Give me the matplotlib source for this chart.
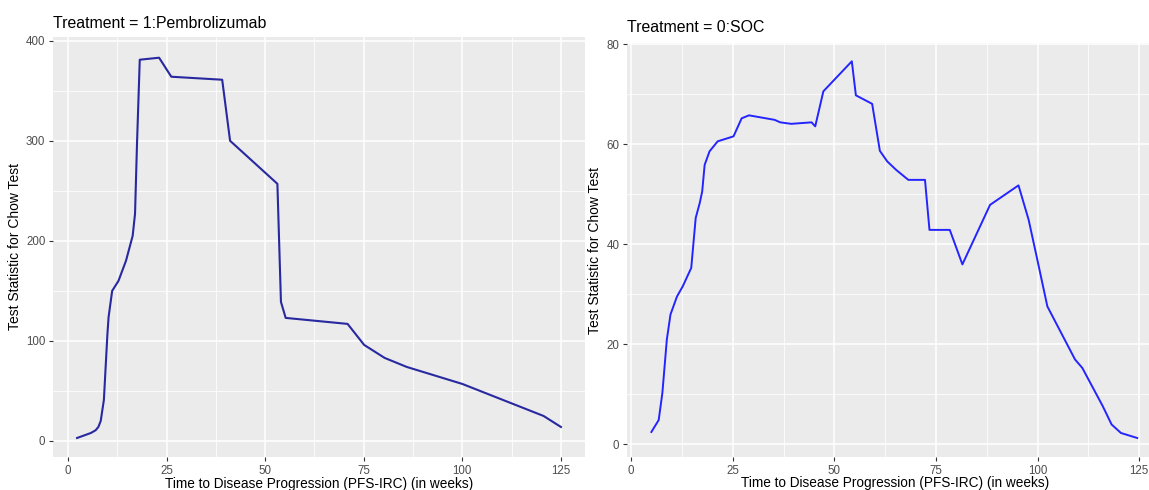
import numpy as np
import matplotlib.pyplot as plt
from matplotlib.ticker import MultipleLocator

plt.rcParams['font.family'] = ['Liberation Sans', 'DejaVu Sans']

# Treatment = 1 (Pembrolizumab)
semanas_1 = [2.3, 5.8, 7.0, 7.7, 8.3, 9.1, 10.0, 10.3, 11.2, 12.8, 14.7, 16.4, 17.0,
             17.5, 18.2, 23.1, 26.2, 39.1, 41.1, 53.1, 54.0, 55.2, 70.9, 75.1, 80.3,
             85.9, 100.0, 120.6, 125.0]
chow_1 = [3, 8, 10.7, 14, 20, 41, 107, 124, 150, 160, 180, 205, 227,
          297, 381, 383, 364, 361, 300, 257, 139, 123, 117, 96, 83,
          74, 57, 25, 14]

# Treatment = 0 (SOC)
semanas_0 = [5.0, 6.8, 7.7, 8.8, 9.7, 11.3, 12.7, 14.8, 15.9, 16.9, 17.5, 18.1, 19.3,
             21.3, 25.2, 27.2, 29.0, 35.3, 36.7, 39.4, 44.4, 45.3, 47.3, 54.3, 55.3,
             59.3, 61.2, 63.0, 65.2, 68.2, 72.3, 73.4, 78.4, 81.5, 84.7, 88.3, 95.3,
             97.8, 100.1, 102.4, 109.2, 111.0, 116.0, 118.2, 120.5, 124.5]
chow_0 = [2.5, 4.9, 10.3, 21, 26, 29.6, 31.6, 35.3, 45.3, 48.3, 50.6, 55.9, 58.6,
          60.6, 61.6, 65.2, 65.8, 64.9, 64.4, 64.1, 64.4, 63.6, 70.6, 76.6, 69.8,
          68.1, 58.7, 56.6, 54.9, 52.9, 52.9, 42.9, 42.9, 36, 41.6, 47.9, 51.8,
          44.9, 36.3, 27.6, 17, 15.3, 7.7, 4, 2.3, 1.3]

W, H = 1149, 490
fig = plt.figure(figsize=(W/100, H/100), dpi=100)

def panel(x0, x1, y0, y1):
    # coordenadas en pixeles (y desde arriba)
    return fig.add_axes([x0/W, 1 - y1/H, (x1 - x0)/W, (y1 - y0)/H])

def estilo_gg(ax, ymaj, ymin):
    ax.set_facecolor('#EBEBEB')
    for s in ax.spines.values():
        s.set_visible(False)
    ax.xaxis.set_major_locator(MultipleLocator(25))
    ax.xaxis.set_minor_locator(MultipleLocator(12.5))
    ax.yaxis.set_major_locator(MultipleLocator(ymaj))
    ax.yaxis.set_minor_locator(MultipleLocator(ymin))
    ax.grid(which='major', color='white', lw=1.1)
    ax.grid(which='minor', color='white', lw=0.55)
    ax.set_axisbelow(True)
    ax.tick_params(which='major', length=3, width=0.8, color='#333333',
                   labelcolor='#4D4D4D', labelsize=8.3, pad=2.5)
    ax.tick_params(which='minor', length=0)

ax1 = panel(53, 585, 37, 457)
estilo_gg(ax1, 100, 50)
ax1.plot(semanas_1, chow_1, color='#2828A0', lw=1.5)
ax1.set_xlim(-3.8, 131.1)
ax1.set_ylim(-16, 403.7)
ax1.set_ylabel('Test Statistic for Chow Test', fontsize=10, labelpad=3)
ax1.set_xlabel('Time to Disease Progression (PFS-IRC) (in weeks)', fontsize=9.8, labelpad=0.5)
fig.text(53/W, 1 - 28/H, 'Treatment = 1:Pembrolizumab', fontsize=11.4, ha='left', va='baseline')

ax2 = panel(627, 1149, 43, 457)
estilo_gg(ax2, 20, 10)
ax2.plot(semanas_0, chow_0, color='#2424FF', lw=1.4)
ax2.set_xlim(-1.0, 127.4)
ax2.set_ylim(-2.5, 80.26)
ax2.set_ylabel('Test Statistic for Chow Test', fontsize=10, labelpad=3)
fig.text(895/W, 1 - 487/H, 'Time to Disease Progression (PFS-IRC) (in weeks)', fontsize=9.8,
         ha='center', va='baseline')
fig.text(627/W, 1 - 32/H, 'Treatment = 0:SOC', fontsize=11.4, ha='left', va='baseline')

fig.savefig('out.png', dpi=100)
